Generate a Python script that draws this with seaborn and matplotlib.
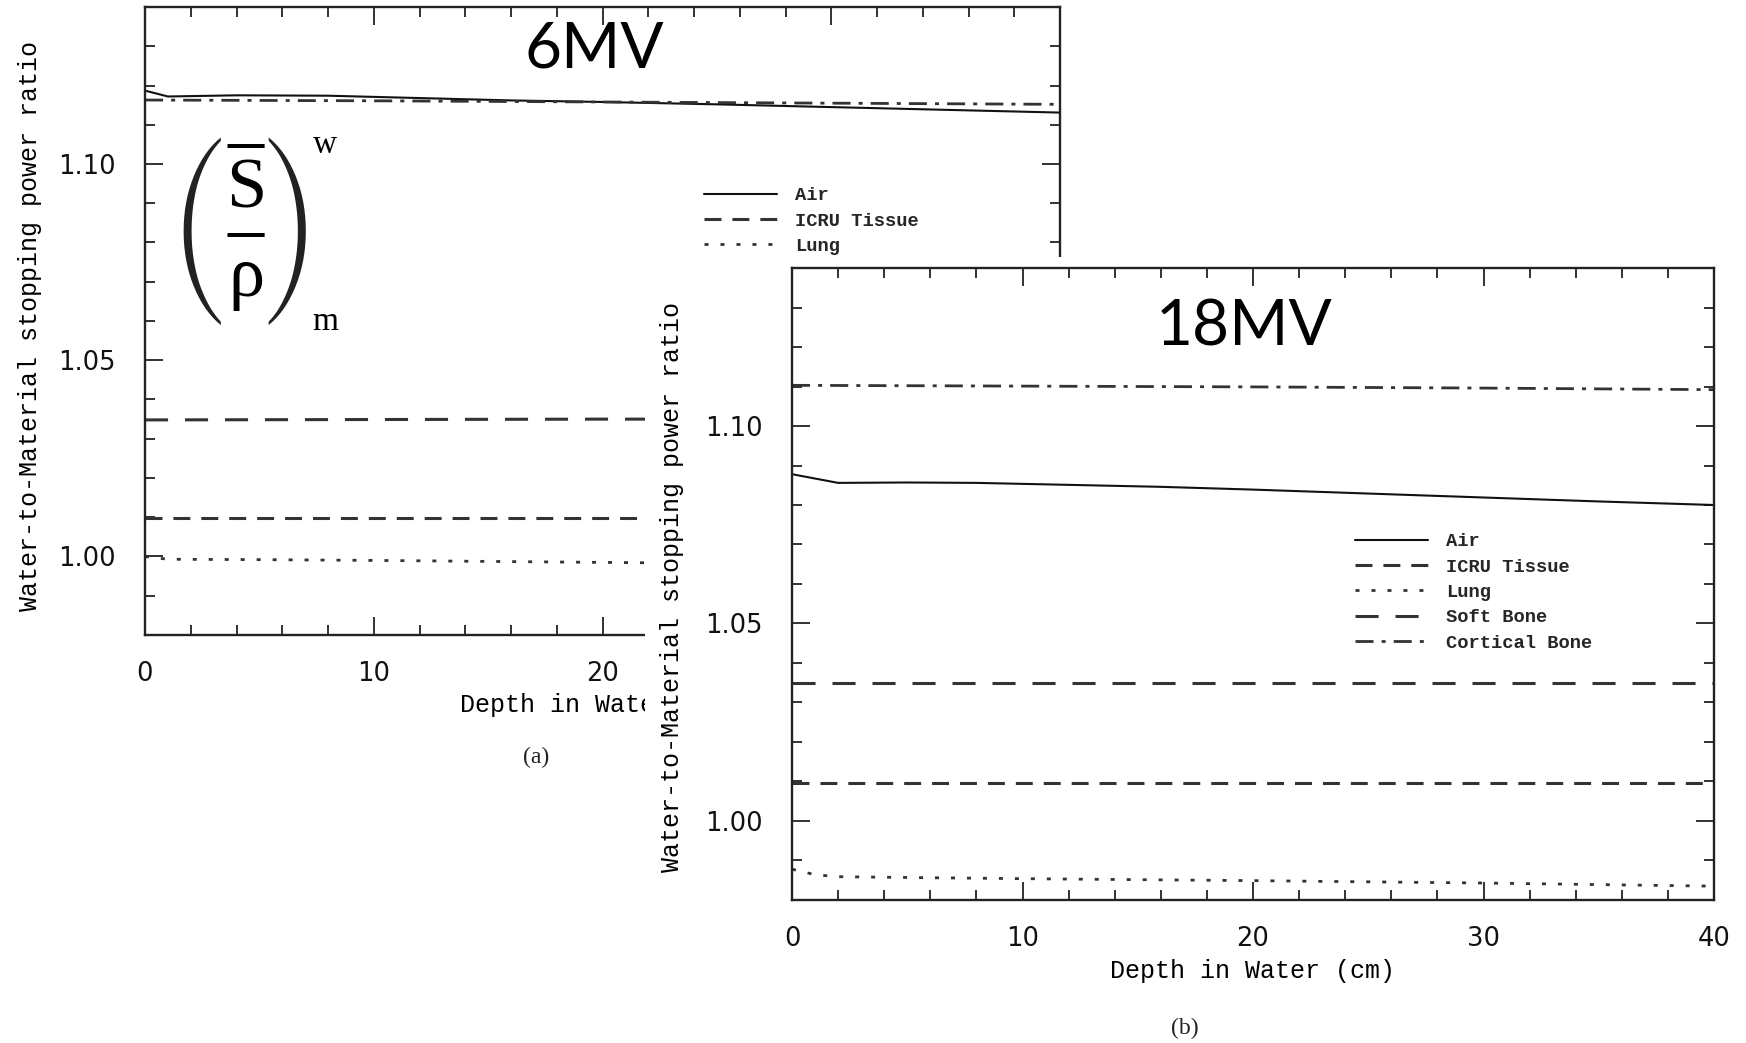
import numpy as np
import pandas as pd
import seaborn as sns
import matplotlib
matplotlib.use("Agg")
import matplotlib.pyplot as plt
from matplotlib.patches import Rectangle
from matplotlib.ticker import MultipleLocator, FormatStrFormatter

# ---------------- data ----------------
materials = ["Air", "ICRU Tissue", "Lung", "Soft Bone", "Cortical Bone"]

# 6 MV panel (a)
depth_air_6 = [0, 1, 4, 8, 12, 16, 20, 25, 30, 35, 40]
ratio_air_6 = [1.1187, 1.1172, 1.1175, 1.1174, 1.1168, 1.1162, 1.1158, 1.1152, 1.1145, 1.1138, 1.1131]
depth_flat_6 = [0, 10, 20, 30, 40]
ratio_icru_6 = [1.0097, 1.0097, 1.0097, 1.0097, 1.0097]
ratio_soft_6 = [1.0348, 1.0349, 1.0350, 1.0350, 1.0350]
ratio_cort_6 = [1.1163, 1.1161, 1.1158, 1.1155, 1.1152]
depth_lung_6 = [0, 1, 5, 10, 20, 30, 40]
ratio_lung_6 = [1.0000, 0.9993, 0.9992, 0.9990, 0.9985, 0.9980, 0.9976]

# 18 MV panel (b)
depth_air_18 = [0, 2, 5, 8, 12, 16, 20, 25, 30, 35, 40]
ratio_air_18 = [1.0878, 1.0856, 1.0857, 1.0856, 1.0851, 1.0846, 1.0839, 1.0829, 1.0819, 1.0809, 1.0800]
depth_flat_18 = [0, 10, 20, 30, 40]
ratio_icru_18 = [1.0095, 1.0095, 1.0095, 1.0095, 1.0095]
ratio_soft_18 = [1.0349, 1.0349, 1.0349, 1.0349, 1.0349]
ratio_cort_18 = [1.1103, 1.1101, 1.1099, 1.1096, 1.1092]
depth_lung_18 = [0, 1, 2, 5, 10, 20, 30, 40]
ratio_lung_18 = [0.9878, 0.9864, 0.9859, 0.9857, 0.9854, 0.9849, 0.9843, 0.9835]

x_ticks_major = 10
y_ticks_major = 0.05
x_label = "Depth in Water (cm)"
y_label = "Water-to-Material stopping power ratio"


def long_frame(series):
    rows = []
    for mat, (d, r) in series.items():
        for xi, yi in zip(d, r):
            rows.append({"depth": xi, "ratio": yi, "material": mat})
    return pd.DataFrame(rows)


df6 = long_frame({
    "Air": (depth_air_6, ratio_air_6),
    "ICRU Tissue": (depth_flat_6, ratio_icru_6),
    "Lung": (depth_lung_6, ratio_lung_6),
    "Soft Bone": (depth_flat_6, ratio_soft_6),
    "Cortical Bone": (depth_flat_6, ratio_cort_6),
})
df18 = long_frame({
    "Air": (depth_air_18, ratio_air_18),
    "ICRU Tissue": (depth_flat_18, ratio_icru_18),
    "Lung": (depth_lung_18, ratio_lung_18),
    "Soft Bone": (depth_flat_18, ratio_soft_18),
    "Cortical Bone": (depth_flat_18, ratio_cort_18),
})

# ---------------- styles ----------------
sns.set_theme(style="ticks")
plt.rcParams["font.family"] = ["DejaVu Sans"]
plt.rcParams["lines.scale_dashes"] = False

styles = {
    "Air": dict(color="#111111", lw=1.5, ls="-"),
    "ICRU Tissue": dict(color="#333333", lw=2.2, ls=(0, (12.2, 7.9))),
    "Lung": dict(color="#333333", lw=2.0, ls=(0, (2.9, 8.6))),
    "Soft Bone": dict(color="#333333", lw=2.2, ls=(0, (16.6, 12.2))),
    "Cortical Bone": dict(color="#333333", lw=2.0, ls=(0, (13.0, 5.8, 2.9, 5.8))),
}

W, H = 1746, 1043
fig = plt.figure(figsize=(W / 100, H / 100), dpi=100)
fig.patch.set_facecolor("white")


def fx(x):
    return x / W


def fy(y):
    return 1 - y / H


def px_axes(l, t, r, b):
    return [l / W, 1 - b / H, (r - l) / W, (b - t) / H]


ax_a = fig.add_axes(px_axes(145, 7, 1060, 635))
ax_b = fig.add_axes(px_axes(792, 268, 1714, 900))
ax_a.set_zorder(0)
ax_b.set_zorder(2)

# white sheet of panel (b) covering the lower right of panel (a)
fig.add_artist(Rectangle((fx(645), 0), 1 - fx(645), fy(257),
                         transform=fig.transFigure, facecolor="white",
                         edgecolor="none", zorder=1))

mono = "Liberation Mono"

for ax, df in ((ax_a, df6), (ax_b, df18)):
    ax.set_facecolor("white")
    for m in materials:
        st = styles[m]
        sns.lineplot(data=df[df["material"] == m], x="depth", y="ratio", ax=ax,
                     color=st["color"], linewidth=st["lw"], linestyle=st["ls"],
                     errorbar=None, legend=False, label=m)
    ax.set_xlim(0, 40)
    ax.set_ylim(0.98, 1.14)
    ax.xaxis.set_major_locator(MultipleLocator(x_ticks_major))
    ax.xaxis.set_minor_locator(MultipleLocator(2))
    ax.yaxis.set_major_locator(MultipleLocator(y_ticks_major))
    ax.yaxis.set_minor_locator(MultipleLocator(0.01))
    ax.yaxis.set_major_formatter(FormatStrFormatter("%.2f"))
    ax.tick_params(which="both", direction="in", top=True, right=True,
                   width=1.3, color="#222222", labelsize=18.5, labelcolor="#111111")
    ax.tick_params(which="major", length=13)
    ax.tick_params(which="minor", length=7)
    ax.tick_params(axis="y", which="major", pad=21)
    ax.tick_params(axis="x", which="major", pad=19)
    for s in ax.spines.values():
        s.set_linewidth(1.7)
        s.set_color("#222222")
    ax.set_xlabel(x_label, fontfamily=mono, fontsize=18, color="black")
    ax.set_ylabel(y_label, fontfamily=mono, fontsize=18, color="black")
    ax.xaxis.label.set_verticalalignment("baseline")
    ax.yaxis.label.set_verticalalignment("baseline")

ax_a.xaxis.set_label_coords(0.5, -0.1226)
ax_b.xaxis.set_label_coords(0.5, -0.1234)
ax_a.yaxis.set_label_coords(-0.118, 0.492)
ax_b.yaxis.set_label_coords(-0.123, 0.495)

leg_prop = dict(family=mono, weight="bold", size=13.5)
leg_kw = dict(loc="upper left", bbox_transform=fig.transFigure, frameon=False,
              borderpad=0, borderaxespad=0, handlelength=3.9, handletextpad=0.95,
              labelspacing=0.44, prop=leg_prop)
lines_a = ax_a.get_lines()
ax_a.legend(lines_a[:3], materials[:3], bbox_to_anchor=(fx(704), fy(187)), **leg_kw)
lines_b = ax_b.get_lines()
ax_b.legend(lines_b[:5], materials, bbox_to_anchor=(fx(1355), fy(533)), **leg_kw)

# titles
fig.text(fx(594), fy(68), "6MV", fontfamily="Lato", fontsize=46,
         ha="center", va="baseline", color="black")
fig.text(fx(1244), fy(345), "18MV", fontfamily="Lato", fontsize=46,
         ha="center", va="baseline", color="black")

# formula (S/rho)^w_m
serif = "Liberation Serif"
fig.text(fx(200), fy(231), "(", fontfamily="STIXSizeFourSym", fontsize=44,
         ha="center", va="center", color="#222222")
fig.text(fx(288), fy(231), ")", fontfamily="STIXSizeFourSym", fontsize=44,
         ha="center", va="center", color="#222222")
# overbar, S, fraction bar and rho stacked as one text block (baseline = rho's)
fig.text(fx(246), fy(296), "\u2013\nS\n\u2013\n\u03c1", fontfamily=serif, fontsize=52,
         ha="center", va="baseline", multialignment="center", linespacing=0.59,
         color="black")
fig.text(fx(325), fy(145), "w", fontfamily=serif, fontsize=24,
         ha="center", va="center", color="black")
fig.text(fx(325), fy(322), "m", fontfamily=serif, fontsize=24,
         ha="center", va="center", color="black")

# panel captions
fig.text(fx(536), fy(757), "(a)", fontfamily=serif, fontsize=17,
         ha="center", va="center", color="#222222")
fig.text(fx(1185), fy(1028), "(b)", fontfamily=serif, fontsize=17,
         ha="center", va="center", color="#222222")

fig.savefig("out.png", dpi=100, facecolor="white")
